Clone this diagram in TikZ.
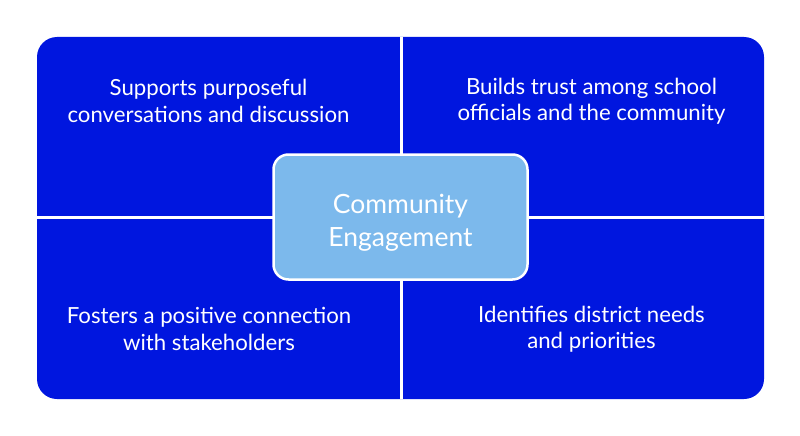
\documentclass[tikz,border=0pt]{standalone}
\usepackage{fontspec}
\setmainfont{Lato}
\usepackage{xcolor}
\usepackage{tikz}
\usetikzlibrary{positioning}
\definecolor{quadblue}{HTML}{0016DF}
\definecolor{hubblue}{HTML}{7CB9EC}

\begin{document}
\begin{tikzpicture}[
    x=1pt, y=-1pt,
    quadtext/.style={align=center, text=white, font=\fontsize{22.2}{26.3}\selectfont},
    hub/.style={draw=white, line width=2.5pt, rounded corners=15pt, fill=hubblue, minimum width=254pt, minimum height=125pt},
    hubtext/.style={text=white, align=center, font=\fontsize{26.5}{33}\selectfont},
    divider/.style={white, line width=3pt}
]
\useasboundingbox (0,0) rectangle (800,436);
\fill[quadblue, rounded corners=20pt] (37,37) rectangle (764,399);
\coordinate (top) at (401,37);
\coordinate (bottom) at (401,399);
\coordinate (left) at (37,217);
\coordinate (right) at (764,217);
\draw[divider] (top) -- (bottom);
\draw[divider] (left) -- (right);
\node[quadtext] (supports) at (208.5,101) {Supports purposeful\\conversations and discussion};
\node[quadtext] (trust) at (591.5,101) {Builds trust among school\\officials and the community};
\node[quadtext] (fosters) at (209,329) {Fosters a positive connection\\with stakeholders};
\node[quadtext] (needs) at (591.5,329) {Identifies district needs\\and priorities};
\node[hub] (engage) at (400.5,217) {};
\node[hubtext] (engagetext) at (400.5,222.5) {Community\\Engagement};
\end{tikzpicture}
\end{document}
